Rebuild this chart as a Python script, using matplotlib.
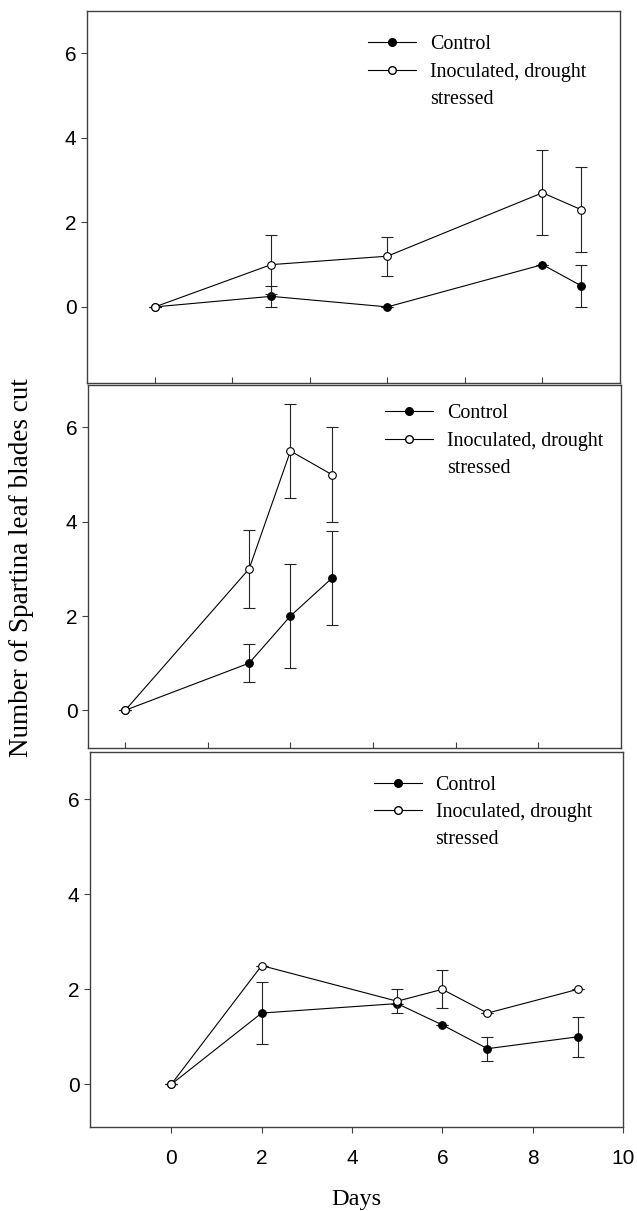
import matplotlib
matplotlib.use("Agg")
import matplotlib.pyplot as plt
from matplotlib.lines import Line2D

# ---- data ----
# Panel 1 (top)
p1_days = [0, 3, 6, 10, 11]
p1_ctrl = [0, 0.25, 0, 1.0, 0.5]
p1_ctrl_err = [0, 0.25, 0, 0, 0.5]
p1_inoc = [0, 1.0, 1.2, 2.7, 2.3]
p1_inoc_err = [0, 0.7, 0.46, 1.0, 1.0]

# Panel 2 (middle)
p2_days = [0, 3, 4, 5]
p2_ctrl = [0, 1.0, 2.0, 2.8]
p2_ctrl_err = [0, 0.41, 1.1, 1.0]
p2_inoc = [0, 3.0, 5.5, 5.0]
p2_inoc_err = [0, 0.82, 1.0, 1.0]

# Panel 3 (bottom)
p3_days = [0, 2, 5, 6, 7, 9]
p3_ctrl = [0, 1.5, 1.7, 1.25, 0.75, 1.0]
p3_ctrl_err = [0, 0.65, 0, 0, 0.25, 0.42]
p3_inoc = [0, 2.5, 1.75, 2.0, 1.5, 2.0]
p3_inoc_err = [0, 0, 0.25, 0.4, 0, 0]

x_ticks = [0, 2, 4, 6, 8, 10]
y_ticks = [0, 2, 4, 6]
label_ctrl = "Control"
label_inoc_1 = "Inoculated, drought"
label_inoc_2 = "stressed"
ylabel = "Number of Spartina leaf blades cut"
xlabel = "Days"

W, H = 637, 1211
fig = plt.figure(figsize=(W / 100, H / 100), dpi=100)

SERIF = ["Liberation Serif", "DejaVu Serif"]
SANS = ["Liberation Sans", "DejaVu Sans"]
FRAME = "#404040"

def px_axes(l, t, r, b):
    return fig.add_axes([l / W, 1 - b / H, (r - l) / W, (b - t) / H])

panels = [
    dict(box=(87, 11, 620, 383), xlim=(-1.75, 12), ylim=(-1.8, 7.0),
         days=p1_days, ctrl=p1_ctrl, ce=p1_ctrl_err, inoc=p1_inoc, ie=p1_inoc_err,
         leg=(0.527, 0.935), bottom=False),
    dict(box=(88, 385, 621, 748), xlim=(-0.9, 12), ylim=(-0.8, 6.9),
         days=p2_days, ctrl=p2_ctrl, ce=p2_ctrl_err, inoc=p2_inoc, ie=p2_inoc_err,
         leg=(0.557, 0.947), bottom=False),
    dict(box=(90, 752, 623, 1127), xlim=(-1.8, 10), ylim=(-0.9, 7.0),
         days=p3_days, ctrl=p3_ctrl, ce=p3_ctrl_err, inoc=p3_inoc, ie=p3_inoc_err,
         leg=(0.532, 0.937), bottom=True),
]

for p in panels:
    ax = px_axes(*p["box"])
    ax.set_xlim(*p["xlim"])
    ax.set_ylim(*p["ylim"])
    for s in ax.spines.values():
        s.set_color(FRAME)
        s.set_linewidth(1.0)
    ax.errorbar(p["days"], p["ctrl"], yerr=p["ce"], color="black", lw=0.8,
                marker="o", ms=5.5, mfc="black", mec="black", mew=0.8,
                capsize=4, capthick=0.8, elinewidth=0.8, ecolor="#222222", zorder=2)
    ax.errorbar(p["days"], p["inoc"], yerr=p["ie"], color="black", lw=0.8,
                marker="o", ms=5.5, mfc="white", mec="black", mew=0.8,
                capsize=4, capthick=0.8, elinewidth=0.8, ecolor="#222222", zorder=3)
    ax.set_yticks(y_ticks)
    ax.set_xticks(x_ticks)
    ax.tick_params(axis="y", direction="out", length=4.5, width=0.8, color=FRAME,
                   labelsize=15, pad=3)
    if p["bottom"]:
        ax.tick_params(axis="x", direction="out", length=4, width=0.8, color=FRAME,
                       labelsize=15, pad=12)
    else:
        ax.tick_params(axis="x", direction="in", length=4, width=0.8, color=FRAME,
                       labelbottom=False)
    for lab in ax.get_xticklabels() + ax.get_yticklabels():
        lab.set_family(SANS)
    handles = [Line2D([], [], color="black", lw=0.8, marker="o", ms=5.5,
                      mfc="black", mec="black"),
               Line2D([], [], color="black", lw=0.8, marker="o", ms=5.5,
                      mfc="white", mec="black"),
               Line2D([], [], linestyle="none", marker=None)]
    leg = ax.legend(handles, [label_ctrl, label_inoc_1, label_inoc_2],
                    loc="upper left", bbox_to_anchor=p["leg"], frameon=False,
                    prop={"family": SERIF, "size": 14.4},
                    handlelength=2.4, handletextpad=0.7, labelspacing=0.42,
                    borderpad=0, borderaxespad=0)
    if p["bottom"]:
        ax.set_xlabel(xlabel, family=SERIF, fontsize=17.5, labelpad=15)

fig.text(22 / W, 1 - 568 / H, ylabel, rotation=90, family=SERIF, fontsize=19.5,
         ha="center", va="center")

fig.savefig("out.png", dpi=100)
